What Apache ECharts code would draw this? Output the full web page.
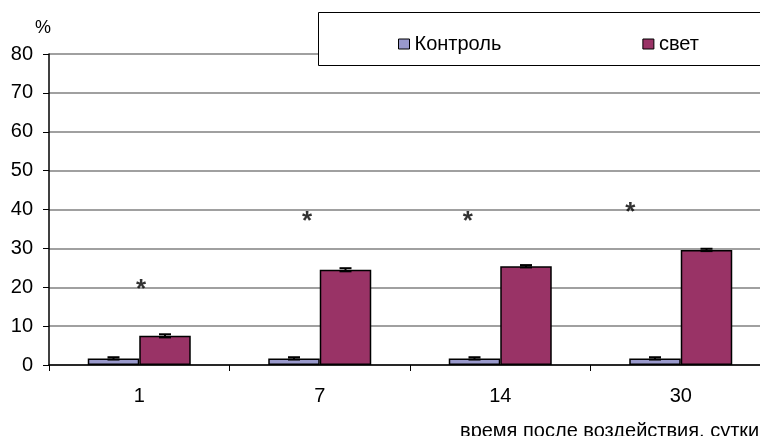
<!DOCTYPE html>
<html>
<head>
<meta charset="utf-8">
<script src="https://cdn.jsdelivr.net/npm/echarts@6/dist/echarts.min.js"></script>
<style>
html,body{margin:0;padding:0;background:#fff;}
#chart{width:760px;height:436px;}
</style>
</head>
<body>
<div id="chart"></div>
<script>
var days=['1','7','14','30'];
var control=[1.7,1.7,1.7,1.7];
var controlErr=[0.3,0.3,0.3,0.3];
var light=[7.5,24.5,25.4,29.6];
var lightErr=[0.4,0.4,0.3,0.3];
// asterisks: [position along x in category units, height in %]
var stars=[[0.51,19.3],[1.43,36.8],[2.32,36.8],[3.22,39.1]];

var chart=echarts.init(document.getElementById('chart'));
var font='"Liberation Sans", Arial, sans-serif';
var barW=51.5;

function errorBars(vals,errs,side){
    return {
        type:'custom',
        xAxisIndex:0,
        z:5,
        renderItem:function(params,api){
            var i=api.value(0);
            var c=api.coord([i,vals[i]]);
            var x=c[0]+side*barW/2;
            var top=api.coord([i,vals[i]+errs[i]])[1];
            var bot=api.coord([i,vals[i]-errs[i]])[1];
            var st={stroke:'#000',lineWidth:2};
            return {type:'group',children:[
                {type:'line',shape:{x1:x,y1:top,x2:x,y2:bot},style:st},
                {type:'line',shape:{x1:x-6,y1:top,x2:x+6,y2:top},style:st},
                {type:'line',shape:{x1:x-6,y1:bot,x2:x+6,y2:bot},style:st}
            ]};
        },
        data:vals.map(function(v,i){return [i,v];})
    };
}

var option={
    animation:false,
    backgroundColor:'#fff',
    textStyle:{fontFamily:font},
    grid:{left:49,top:54,width:722,height:311,containLabel:false,outerBoundsMode:'none'},
    legend:{
        left:393,top:29,z:20,
        itemWidth:11,itemHeight:10,itemGap:141,
        icon:'rect',
        itemStyle:{borderColor:'#000',borderWidth:1},
        textStyle:{fontSize:20,color:'#000',fontFamily:font},
        data:['Контроль','свет']
    },
    graphic:[
        {type:'rect',z:10,left:318,top:12,shape:{x:0,y:0,width:470,height:53},
         style:{fill:'#fff',stroke:'#000',lineWidth:1}},
        {type:'text',left:35,top:19,style:{text:'%',fontSize:18,fill:'#000',fontFamily:font}},
        {type:'text',left:460,top:421,style:{text:'время после воздействия, сутки',fontSize:20,fill:'#000',fontFamily:font,letterSpacing:0.6}}
    ],
    xAxis:[{
        type:'category',
        data:days,
        axisLine:{lineStyle:{color:'#000',width:1.5}},
        axisTick:{show:true,length:6,lineStyle:{color:'#000'}},
        axisLabel:{fontSize:20,color:'#000',margin:21,fontFamily:font},
        splitLine:{show:false}
    },{
        type:'value',min:0,max:4,show:false
    }],
    yAxis:{
        type:'value',min:0,max:80,interval:10,
        axisLine:{show:true,lineStyle:{color:'#000',width:1.5}},
        axisTick:{show:true,length:6,lineStyle:{color:'#000'}},
        axisLabel:{fontSize:20,color:'#000',margin:16,fontFamily:font},
        splitLine:{lineStyle:{color:'#808080',width:1.5}}
    },
    series:[{
        name:'Контроль',type:'bar',data:control,barWidth:barW,barGap:'0%',
        itemStyle:{color:'#9999CC',borderColor:'#000',borderWidth:1.5}
    },{
        name:'свет',type:'bar',data:light,barWidth:barW,barGap:'0%',
        itemStyle:{color:'#993366',borderColor:'#000',borderWidth:1.5}
    },
    errorBars(control,controlErr,-1),
    errorBars(light,lightErr,1),
    {
        type:'scatter',xAxisIndex:1,symbolSize:0,data:stars,
        label:{show:true,position:'inside',formatter:'*',fontSize:26,fontWeight:'bold',color:'#000',fontFamily:font}
    }]
};
chart.setOption(option);
</script>
</body>
</html>
